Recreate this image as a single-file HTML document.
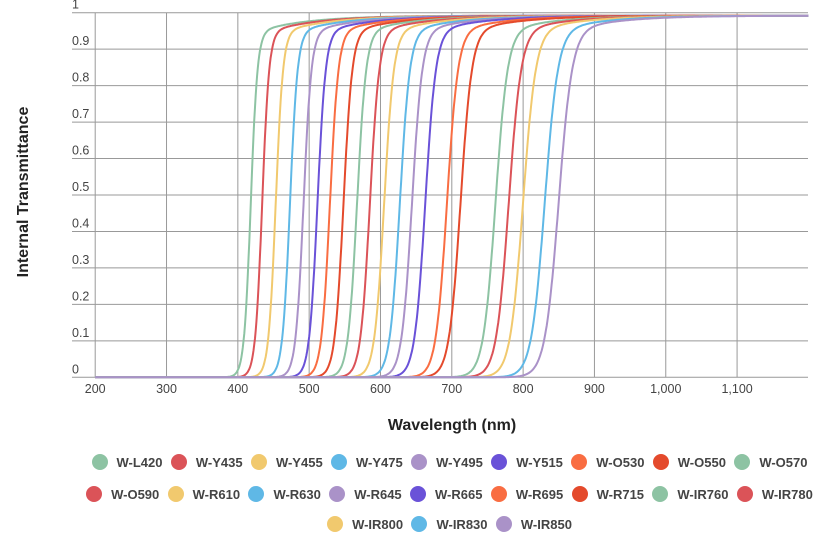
<!DOCTYPE html>
<html><head><meta charset="utf-8"><style>
body{margin:0;background:#fff;font-family:"Liberation Sans",Arial,sans-serif;}
#wrap{position:relative;width:835px;height:535px;overflow:hidden}
.row{position:absolute;left:32px;width:835px;display:flex;justify-content:center;font-size:13px;font-weight:bold;color:#444}
.it{display:flex;align-items:center;margin:0 4.2px}
.dot{width:16px;height:16px;border-radius:50%;margin-right:9px}
</style></head><body><div id="wrap">
<svg id="s" width="835" height="535" style="position:absolute;left:0;top:0"></svg>
<div class="row" style="top:454px" id="r1"></div>
<div class="row" style="top:486px" id="r2"></div>
<div class="row" style="top:516px" id="r3"></div>
</div>
<script>
var C={g:"#8dc3a3",r:"#db5358",y:"#f1c96e",b:"#5fb8e6",p:"#aa92c8",v:"#6a52d8",o:"#f96d42",ro:"#e44a2c"};
var S=[["W-L420",418,C.g],["W-Y435",434,C.r],["W-Y455",453,C.y],["W-Y475",473,C.b],["W-Y495",492,C.p],["W-Y515",511.5,C.v],["W-O530",529,C.o],["W-O550",548,C.ro],["W-O570",567,C.g],
["W-O590",585,C.r],["W-R610",605,C.y],["W-R630",627,C.b],["W-R645",644,C.p],["W-R665",662.6,C.v],["W-R695",693,C.o],["W-R715",712,C.ro],["W-IR760",761,C.g],["W-IR780",779.6,C.r],
["W-IR800",799.6,C.y],["W-IR830",830,C.b],["W-IR850",849.5,C.p]];
function X(n){return 95.2+(n-200)*0.7132}
function Y(t){return 377.3-t*364.6}
var h='';
for(var i=0;i<=10;i++){var y=Y(i/10);h+='<line x1="72" x2="808" y1="'+y+'" y2="'+y+'" stroke="#999" stroke-width="1"/>';
h+='<text x="72" y="'+(y-4)+'" font-size="12.5" fill="#444">'+(i==10?'1':i==0?'0':(i/10).toString())+'</text>';}
for(var n=300;n<=1100;n+=100){var x=X(n);h+='<line x1="'+x+'" x2="'+x+'" y1="'+Y(1)+'" y2="'+Y(0)+'" stroke="#999"/>';}
h+='<line x1="95.2" x2="95.2" y1="'+Y(1)+'" y2="'+Y(0)+'" stroke="#999"/>';
for(var n=200;n<=1100;n+=100){h+='<text x="'+X(n)+'" y="393" text-anchor="middle" font-size="12.5" fill="#444">'+(n>=1000?(n/1000|0)+','+('00'+n%1000).slice(-3):n)+'</text>';}
h+='<text x="452" y="430" text-anchor="middle" font-size="16" font-weight="bold" fill="#222">Wavelength (nm)</text>';
h+='<text transform="translate(28,192) rotate(-90)" text-anchor="middle" font-size="16" font-weight="bold" fill="#222">Internal Transmittance</text>';
S.forEach(function(s){var c=s[1],w=c*0.0112,d='';
for(var n=200;n<=1200;n+=1){var f=1/(1+Math.exp(-(n-c)/w));var P=0.992-0.05*Math.exp(-Math.max(0,n-c)/70);
var t=f*P;d+=(n==200?'M':'L')+X(n).toFixed(1)+' '+Y(t).toFixed(1);}
h+='<path d="'+d+'" fill="none" stroke="'+s[2]+'" stroke-width="2"/>';});
document.getElementById('s').innerHTML=h;
function L(id,a,b){var e=document.getElementById(id),q='';for(var i=a;i<b;i++)q+='<div class="it"><div class="dot" style="background:'+S[i][2]+'"></div>'+S[i][0]+'</div>';e.innerHTML=q;}
L('r1',0,9);L('r2',9,18);L('r3',18,21);
</script></body></html>
